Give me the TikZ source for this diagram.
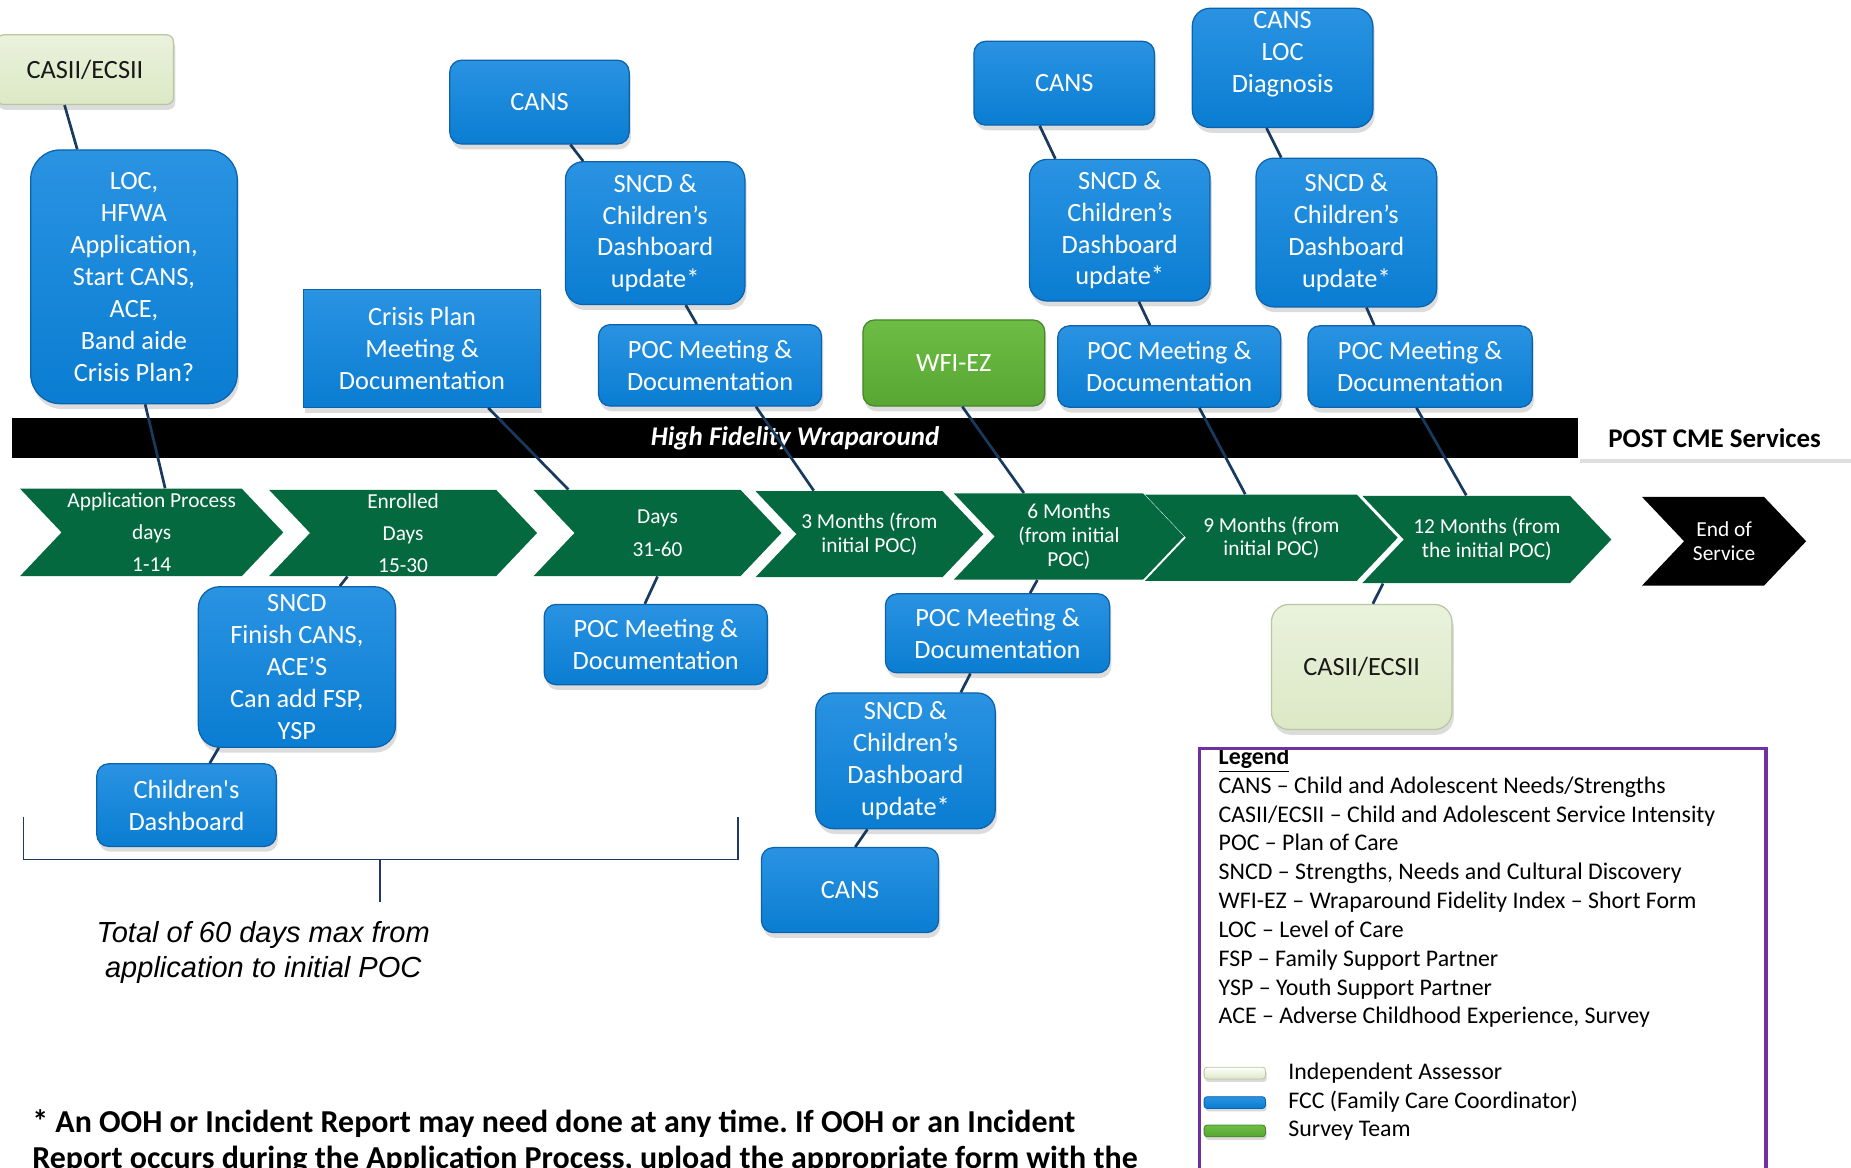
\documentclass[tikz,border=0pt]{standalone}
\usepackage{fontspec}
\setmainfont{Carlito}
\newfontfamily\notefont{Liberation Sans}
\usetikzlibrary{shapes.symbols,shadows}
\frenchspacing

\definecolor{fccblue}{HTML}{0A7DD2}
\definecolor{fcctop}{HTML}{2A93E2}
\definecolor{fccedge}{HTML}{0B62AD}
\definecolor{iagreen}{HTML}{DCE8C5}
\definecolor{iatop}{HTML}{EAF2DC}
\definecolor{iaedge}{HTML}{B9C6A1}
\definecolor{svgreen}{HTML}{58A633}
\definecolor{svtop}{HTML}{6DBD45}
\definecolor{svedge}{HTML}{45872A}
\definecolor{phasegreen}{HTML}{04693F}
\definecolor{linknavy}{HTML}{173A5E}
\definecolor{bracenavy}{HTML}{1F3864}
\definecolor{legpurple}{HTML}{7030A0}

\tikzset{
  box/.style={align=center, inner sep=0pt, line width=0.6pt,
    font=\fontsize{12.7}{15.4}\selectfont,
    drop shadow={opacity=0.28, shadow xshift=0.03cm, shadow yshift=-0.09cm}},
  fcc/.style={box, draw=fccedge, top color=fcctop, bottom color=fccblue,
    text=white, rounded corners=0.2cm},
  assessor/.style={box, draw=iaedge, top color=iatop, bottom color=iagreen,
    text=black!90, rounded corners=0.2cm},
  survey/.style={box, draw=svedge, top color=svtop, bottom color=svgreen,
    text=white, rounded corners=0.2cm},
  phase/.style={signal, signal from=west, signal to=east, signal pointer angle=93,
    fill=phasegreen, text=white, align=center, inner sep=0pt,
    font=\fontsize{10.3}{11.4}\selectfont},
  link/.style={draw=linknavy, line width=1.3pt},
  swatch/.style={minimum width=1.04cm, minimum height=0.2cm, inner sep=0pt,
    rounded corners=1.5pt, line width=0.4pt,
    drop shadow={opacity=0.3, shadow xshift=0.02cm, shadow yshift=-0.05cm}}
}

\begin{document}
\begin{tikzpicture}[x=0.02cm, y=-0.02cm]
  \useasboundingbox (0,0) rectangle (1568,989);
  \clip (0,0) rectangle (1568,989);

  % top row
  \node[assessor, rounded corners=0.12cm, minimum width=3.0cm, minimum height=1.18cm] (casA) at (72,59) {CASII/ECSII};
  \node[fcc, rounded corners=0.5cm, minimum width=3.5cm, minimum height=4.3cm] (loc) at (113.5,234.5)
    {LOC,\\HFWA\\Application,\\Start CANS,\\ACE,\\Band aide\\Crisis Plan?};
  \node[fcc, rounded corners=0pt, minimum width=4.02cm, minimum height=2.0cm] (crisis) at (357.5,295)
    {Crisis Plan\\Meeting \&\\Documentation};
  \node[fcc, minimum width=3.04cm, minimum height=1.42cm] (cansA) at (457,86.5) {CANS};
  \node[fcc, rounded corners=0.3cm, minimum width=3.04cm, minimum height=2.42cm] (sncdA) at (555,197.5)
    {SNCD \&\\Children’s\\Dashboard\\update*};
  \node[fcc, minimum width=3.78cm, minimum height=1.38cm] (pocA) at (601.5,309.5) {POC Meeting \&\\Documentation};
  \node[survey, minimum width=3.08cm, minimum height=1.46cm] (wfi) at (808,307.5) {WFI-EZ};
  \node[fcc, minimum width=3.06cm, minimum height=1.42cm] (cansB) at (901.5,70.5) {CANS};
  \node[fcc, rounded corners=0.3cm, minimum width=3.06cm, minimum height=2.4cm] (sncdB) at (948.5,195)
    {SNCD \&\\Children’s\\Dashboard\\update*};
  \node[fcc, minimum width=3.78cm, minimum height=1.38cm] (pocB) at (990.5,310.5) {POC Meeting \&\\Documentation};
  \node[fcc, rounded corners=0.3cm, minimum width=3.06cm, minimum height=2.02cm] (cansC) at (1086.5,57.5)
    {CANS\\LOC\\Diagnosis\\\mbox{}};
  \node[fcc, rounded corners=0.3cm, minimum width=3.06cm, minimum height=2.52cm] (sncdC) at (1140.5,197)
    {SNCD \&\\Children’s\\Dashboard\\update*};
  \node[fcc, minimum width=3.8cm, minimum height=1.38cm] (pocC) at (1203,310.5) {POC Meeting \&\\Documentation};

  % wraparound bar
  \node[fill=black, minimum width=26.54cm, minimum height=0.68cm, inner sep=0pt, text=white,
    font=\bfseries\itshape\fontsize{13}{15}\selectfont] (hfw) at (673.5,371) {High Fidelity Wraparound};
  \node[fill=white, minimum width=4.62cm, minimum height=0.7cm, inner sep=0pt,
    drop shadow={opacity=0.25, shadow xshift=0.03cm, shadow yshift=-0.06cm},
    font=\bfseries\fontsize{13}{15}\selectfont] (post) at (1452.5,371.5) {POST CME Services};

  % phases
  \node[phase, font=\fontsize{10.3}{15.4}\selectfont, minimum width=4.46cm, minimum height=1.48cm] (c1) at (128.5,451)
    {Application Process\\days\\1-14};
  \node[phase, font=\fontsize{10.3}{15.4}\selectfont, minimum width=4.54cm, minimum height=1.46cm] (c2) at (341.5,451.5)
    {Enrolled\\Days\\15-30};
  \node[phase, font=\fontsize{10.3}{15.8}\selectfont, minimum width=4.2cm, minimum height=1.46cm] (c3) at (557,451.5)
    {Days\\31-60};
  \node[phase, minimum width=3.86cm, minimum height=1.46cm] (c4) at (736.5,452.5) {3 Months (from\\initial POC)};
  \node[phase, minimum width=3.9cm, minimum height=1.46cm] (c5) at (905.5,454.5) {6 Months\\(from initial\\POC)};
  \node[phase, minimum width=4.28cm, minimum height=1.46cm] (c6) at (1077,455.5) {9 Months (from\\initial POC)};
  \node[phase, minimum width=4.22cm, minimum height=1.48cm] (c7) at (1259.5,457) {12 Months (from\\the initial POC)};
  \node[phase, fill=black, minimum width=2.78cm, minimum height=1.5cm] (c8) at (1460.5,458.5) {End of\\Service};

  % lower row
  \node[fcc, rounded corners=0.36cm, minimum width=3.34cm, minimum height=2.72cm] (sncdD) at (251.5,565)
    {SNCD\\Finish CANS,\\ACE’S\\Can add FSP,\\YSP};
  \node[fcc, minimum width=3.04cm, minimum height=1.4cm] (dash) at (158,682) {Children\textquotesingle s\\Dashboard};
  \node[fcc, minimum width=3.78cm, minimum height=1.36cm] (pocD) at (555.5,546) {POC Meeting \&\\Documentation};
  \node[fcc, minimum width=3.8cm, minimum height=1.34cm] (pocE) at (845,536.5) {POC Meeting \&\\Documentation};
  \node[fcc, rounded corners=0.3cm, minimum width=3.04cm, minimum height=2.3cm] (sncdE) at (767,644.5)
    {SNCD \&\\Children’s\\Dashboard\\update*};
  \node[fcc, minimum width=3.0cm, minimum height=1.44cm] (cansD) at (720,754) {CANS};
  \node[assessor, rounded corners=0.3cm, minimum width=3.06cm, minimum height=2.12cm] (casB) at (1153.5,565) {CASII/ECSII};

  \begin{scope}[link]
    \draw (casA.-120) to (loc.114);
    \draw (loc.-85) to (c1.73);
    \draw (crisis.-42.5) to (c3.154);
    \draw (cansA.-54) to (sncdA.135);
    \draw (sncdA.-67.5) to (pocA.108);
    \draw (pocA.-42) to (c4.142.5);
    \draw (wfi.-79) to (c5.136);
    \draw (cansB.-120) to (sncdB.132);
    \draw (sncdB.-75.5) to (pocB.115.5);
    \draw (pocB.-54.6) to (c6.121);
    \draw (cansC.-105.5) to (sncdC.131.4);
    \draw (sncdC.-75.3) to (pocC.138.5);
    \draw (pocC.-95) to (c7.115.3);
    \draw (c2.-142) to (sncdD.62);
    \draw (sncdD.-134) to (dash.61.5);
    \draw (c3.-90) to (pocD.105.6);
    \draw (c5.-126) to (pocE.51);
    \draw (pocE.-124.5) to (sncdE.51.3);
    \draw (sncdE.-119) to (cansD.83.7);
    \draw (c7.-157) to (casB.80);
  \end{scope}

  % 60 day bracket
  \draw[bracenavy, line width=0.8pt] (20,692) |- (625,728) -- (625,692);
  \draw[bracenavy, line width=0.8pt] (322,728) -- (322,764);
  \node[align=center, inner sep=0pt, font=\notefont\itshape\fontsize{14}{17}\selectfont] (total) at (223,807)
    {Total of 60 days max from\\application to initial POC};

  % footnote
  \node[anchor=base west, inner sep=0pt, font=\bfseries\fontsize{15.4}{18}\selectfont] (note1) at (27,959)
    {* An OOH or Incident Report may need done at any time. If OOH or an Incident};
  \node[anchor=base west, inner sep=0pt, font=\bfseries\fontsize{15.4}{18}\selectfont] (note2) at (27,990)
    {Report occurs during the Application Process, upload the appropriate form with the};

  % legend
  \node[anchor=north west, align=left, inner sep=0pt, font=\fontsize{11.5}{13.9}\selectfont] (legend) at (1032,633)
    {\textbf{\underline{Legend}}\\
     CANS – Child and Adolescent Needs/Strengths\\
     CASII/ECSII – Child and Adolescent Service Intensity\\
     POC – Plan of Care\\
     SNCD – Strengths, Needs and Cultural Discovery\\
     WFI-EZ – Wraparound Fidelity Index – Short Form\\
     LOC – Level of Care\\
     FSP – Family Support Partner\\
     YSP – Youth Support Partner\\
     ACE – Adverse Childhood Experience, Survey};
  \node[swatch, draw=iaedge, top color=white, bottom color=iagreen] (swIA) at (1046,909) {};
  \node[swatch, draw=fccedge, top color=fcctop, bottom color=fccblue] (swFCC) at (1046,934) {};
  \node[swatch, draw=svedge, top color=svtop, bottom color=svgreen] (swSV) at (1046,958) {};
  \node[anchor=west, inner sep=0pt, font=\fontsize{11.5}{13.9}\selectfont] (labIA) at (1091,909) {Independent Assessor};
  \node[anchor=west, inner sep=0pt, font=\fontsize{11.5}{13.9}\selectfont] (labFCC) at (1091,933) {FCC (Family Care Coordinator)};
  \node[anchor=west, inner sep=0pt, font=\fontsize{11.5}{13.9}\selectfont] (labSV) at (1091,958) {Survey Team};
  \draw[legpurple, line width=1.7pt] (1016,634) rectangle (1496,1000);
\end{tikzpicture}
\end{document}
